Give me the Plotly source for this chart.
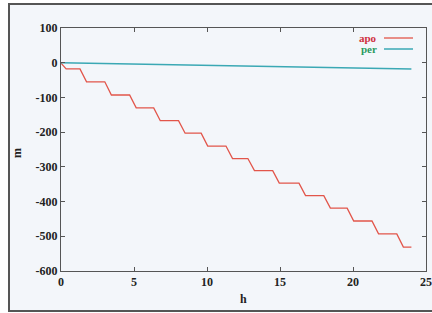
import plotly.graph_objects as go

# Data
apo_h = [0, 0.35, 1.3, 1.75, 3.0, 3.45, 4.7, 5.15, 6.35, 6.8, 8.05, 8.5, 9.6, 10.05,
         11.3, 11.75, 12.8, 13.25, 14.5, 14.95, 16.3, 16.75, 18.0, 18.45, 19.6, 20.05,
         21.3, 21.75, 23.0, 23.45, 24]
apo_m = [-1, -18, -18, -55, -55, -93, -93, -130, -130, -167, -167, -203, -203, -240,
         -240, -276, -276, -311, -311, -347, -347, -383, -383, -419, -419, -456,
         -456, -493, -493, -531, -531]
per_h = [0, 6, 12, 18, 24]
per_m = [0, -4, -9, -14, -18]

x_ticks = [0, 5, 10, 15, 20, 25]
y_ticks = [100, 0, -100, -200, -300, -400, -500, -600]

APO_COLOR = "#e2554a"
PER_COLOR = "#3aa8b4"
BG = "#f3f6fa"
FONT = "Liberation Serif"

fig = go.Figure()
fig.add_trace(go.Scatter(x=apo_h, y=apo_m, mode="lines", name="apo",
                         line=dict(color=APO_COLOR, width=1.3),
                         showlegend=False))
fig.add_trace(go.Scatter(x=per_h, y=per_m, mode="lines", name="per",
                         line=dict(color=PER_COLOR, width=1.5),
                         showlegend=False))

L, R, T, B = 61, 6, 28, 42
W, H = 432, 313
pw, ph = W - L - R, H - T - B

def px(xp):
    return (xp - L) / pw

def py(yp):
    return (H - B - yp) / ph

axis_common = dict(showgrid=False, zeroline=False, showline=True, linecolor="#555555",
                   linewidth=1, mirror="allticks", ticks="inside", ticklen=4,
                   tickcolor="#555555", automargin=False,
                   tickfont=dict(family=FONT, size=12, color="#222222"))

fig.update_layout(
    width=W, height=H,
    margin=dict(l=L, r=R, t=T, b=B, autoexpand=False),
    paper_bgcolor="white", plot_bgcolor=BG,
    xaxis=dict(range=[0, 25], tickvals=x_ticks, ticktext=["<b>%d</b>" % v for v in x_ticks],
               **axis_common),
    yaxis=dict(range=[-600, 100], tickvals=y_ticks, ticktext=["<b>%d</b>" % v for v in y_ticks],
               **axis_common),
    shapes=[
        dict(type="rect", xref="paper", yref="paper", x0=px(9), x1=px(445), y0=py(311), y1=py(4),
             line=dict(color="#555555", width=2), fillcolor=BG, layer="below"),
        dict(type="line", xref="paper", yref="paper", x0=px(384), x1=px(413), y0=py(38), y1=py(38),
             line=dict(color=APO_COLOR, width=1.3)),
        dict(type="line", xref="paper", yref="paper", x0=px(384), x1=px(413), y0=py(49), y1=py(49),
             line=dict(color=PER_COLOR, width=1.5)),
    ],
    annotations=[
        dict(text="<b>apo</b>", xref="paper", yref="paper", x=px(379), y=py(38),
             xanchor="right", yanchor="middle", showarrow=False,
             font=dict(family=FONT, size=11, color="#d03040")),
        dict(text="<b>per</b>", xref="paper", yref="paper", x=px(379), y=py(49),
             xanchor="right", yanchor="middle", showarrow=False,
             font=dict(family=FONT, size=11, color="#2a9a60")),
        dict(text="<b>m</b>", xref="paper", yref="paper", x=px(17), y=py(153),
             xanchor="center", yanchor="middle", showarrow=False, textangle=-90,
             font=dict(family=FONT, size=12, color="#222222")),
        dict(text="<b>h</b>", xref="paper", yref="paper", x=px(243), y=py(299),
             xanchor="center", yanchor="middle", showarrow=False,
             font=dict(family=FONT, size=12, color="#222222")),
    ],
)

fig.write_html("out.html", config={"displayModeBar": False},
               post_script="document.body.style.margin='0';document.body.style.overflow='hidden';")
